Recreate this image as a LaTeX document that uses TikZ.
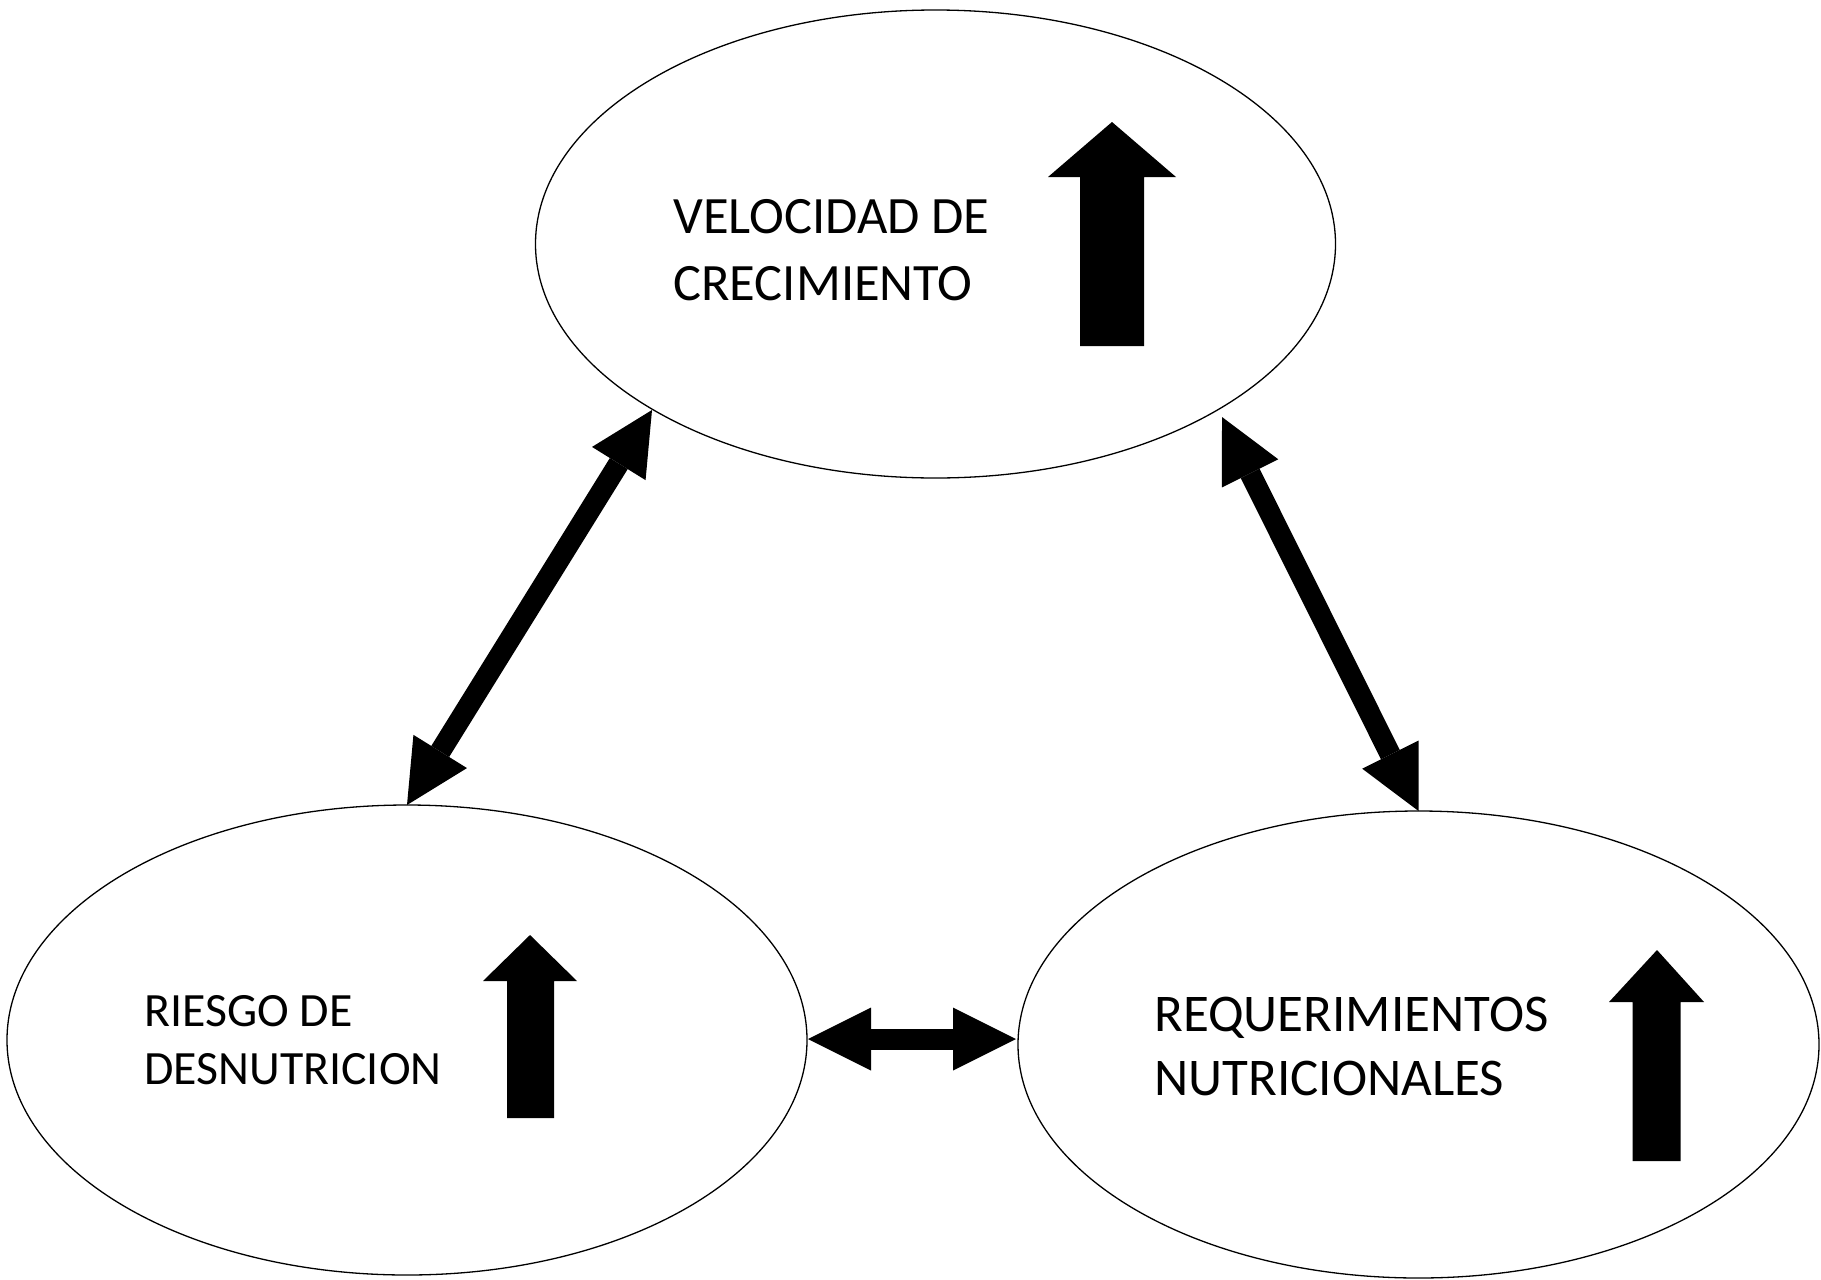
\documentclass[tikz,border=0pt]{standalone}
\usepackage{fontspec}
\setmainfont{Carlito}
\usetikzlibrary{arrows.meta,shapes.geometric}
\begin{document}
\begin{tikzpicture}[x=0.5pt,y=-0.5pt,
  bubble/.style={ellipse, draw, line width=0.65pt, minimum width=400pt, inner sep=0pt, outer sep=0pt},
  link/.style={line width=10.5pt,
    {Triangle[length=31.5pt,width=31.5pt,line width=0pt]}-{Triangle[length=31.5pt,width=31.5pt,line width=0pt]}},
  lbl/.style={anchor=base west, align=left, inner sep=0pt},
  upmark/.style={fill=black}]
\useasboundingbox (0,0) rectangle (1821,1280);

% bubbles
\node[bubble, minimum height=234pt] (vel) at (935.5,244) {};
\node[bubble, minimum height=235pt] (des) at (407,1040) {};
\node[bubble, minimum height=233.5pt, minimum width=400.5pt] (req) at (1418.5,1044.5) {};

% labels (anchor is the baseline of the last line)
\node[lbl, font=\fontsize{26.25pt}{33.7pt}\selectfont] (veltxt) at (673,300.5) {VELOCIDAD DE\\CRECIMIENTO};
\node[lbl, font=\fontsize{23.9pt}{29pt}\selectfont] (destxt) at (144,1084) {RIESGO DE\\DESNUTRICION};
\node[lbl, font=\fontsize{26.5pt}{32pt}\selectfont] (reqtxt) at (1154,1095.7) {REQUERIMIENTOS\\NUTRICIONALES};

% up arrows
\fill[upmark] (1112,122) -- (1176,177) -- (1144,177) -- (1144,346) -- (1080,346) -- (1080,177) -- (1048,177) -- cycle;
\fill[upmark] (530,935) -- (577,981) -- (554,981) -- (554,1118) -- (507,1118) -- (507,981) -- (483,981) -- cycle;
\fill[upmark] (1657,950) -- (1704,1002) -- (1680.5,1002) -- (1680.5,1161) -- (1632.5,1161) -- (1632.5,1002) -- (1609,1002) -- cycle;

% connectors
\coordinate (velL) at (652,410);
\coordinate (velR) at (1222,417);
\coordinate (desE) at (808,1039);
\coordinate (reqW) at (1016,1039);
\draw[link] (des.north) -- (velL);
\draw[link] (velR) -- (req.north);
\draw[link] (desE) -- (reqW);
\end{tikzpicture}
\end{document}
